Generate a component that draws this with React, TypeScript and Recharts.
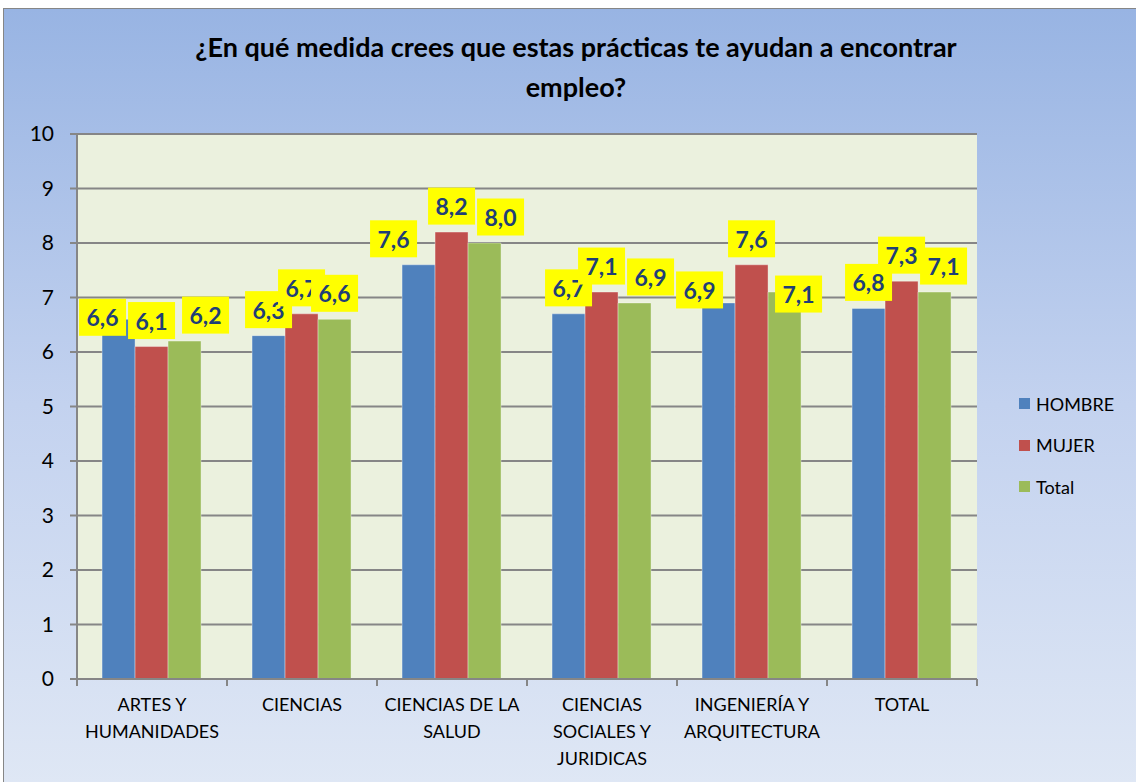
import { BarChart, Bar, XAxis, YAxis, CartesianGrid, LabelList } from "recharts";

const CATEGORIES = [
  "ARTES Y\nHUMANIDADES",
  "CIENCIAS",
  "CIENCIAS DE LA\nSALUD",
  "CIENCIAS\nSOCIALES Y\nJURIDICAS",
  "INGENIERÍA Y\nARQUITECTURA",
  "TOTAL",
];
const HOMBRE = [6.6, 6.3, 7.6, 6.7, 6.9, 6.8];
const MUJER = [6.1, 6.7, 8.2, 7.1, 7.6, 7.3];
const TOTAL = [6.2, 6.6, 8.0, 6.9, 7.1, 7.1];
const Y_TICKS = [0, 1, 2, 3, 4, 5, 6, 7, 8, 9, 10];

const SERIES = [
  { key: "hombre", name: "HOMBRE", color: "#4F81BD" },
  { key: "mujer", name: "MUJER", color: "#C0504D" },
  { key: "total", name: "Total", color: "#9BBB59" },
];

// label nudges (dx, dy) per series, per category, like the hand-placed labels in the source
const NUDGE: Record<string, [number, number][]> = {
  hombre: [[-16, 24], [0, 0], [-25, 0], [0, 0], [-19, 13], [0, 0]],
  mujer: [[0, 0], [0, 0], [0, 0], [0, 0], [0, 0], [0, 0]],
  total: [[21, 0], [0, 0], [16, 0], [16, 0], [14, 28], [9, 0]],
};

const data = CATEGORIES.map((name, i) => ({
  name,
  hombre: HOMBRE[i],
  mujer: MUJER[i],
  total: TOTAL[i],
}));

const FONT = "Lato, 'Open Sans', sans-serif";
const BAND = 150;

const makeLabel = (key: string) => (props: any) => {
  const { x, y, width, value, index } = props;
  const [dx, dy] = NUDGE[key][index] || [0, 0];
  const cx = x + width / 2 + dx;
  const cy = y - 26 + dy;
  return (
    <g>
      <rect x={cx - 23.5} y={cy - 18.5} width={47} height={37} fill="#FFFF00" />
      <text
        x={cx}
        y={cy}
        textAnchor="middle"
        dominantBaseline="central"
        fontFamily={FONT}
        fontWeight={700}
        fontSize={23}
        fill="#1F3F77"
      >
        {Number(value).toFixed(1).replace(".", ",")}
      </text>
    </g>
  );
};

const XTick = (props: any) => {
  const { x, y, payload, index } = props;
  const lines = String(payload.value).split("\n");
  return (
    <g>
      <line x1={x - BAND / 2} x2={x - BAND / 2} y1={y} y2={y + 7} stroke="#868686" strokeWidth={2} />
      {index === CATEGORIES.length - 1 && (
        <line x1={x + BAND / 2} x2={x + BAND / 2} y1={y} y2={y + 7} stroke="#868686" strokeWidth={2} />
      )}
      {lines.map((l, i) => (
        <text
          key={i}
          x={x}
          y={y + 25 + i * 27}
          textAnchor="middle"
          dominantBaseline="central"
          fontFamily={FONT}
          fontSize={18}
          fill="#000"
        >
          {l}
        </text>
      ))}
    </g>
  );
};

export default function App() {
  return (
    <div
      style={{
        position: "absolute",
        left: 0,
        top: 0,
        width: 1136,
        height: 782,
        overflow: "hidden",
        background: "#fff",
      }}
    >
      <div
        style={{
          position: "absolute",
          left: 3,
          top: 8,
          width: 1150,
          height: 790,
          border: "1px solid #868686",
          background: "linear-gradient(to bottom, #98B4E3 0%, #C3D2EF 50%, #E0E8F5 100%)",
        }}
      />
      <div
        style={{
          position: "absolute",
          left: 0,
          top: 27,
          width: 1152,
          textAlign: "center",
          fontFamily: FONT,
          fontWeight: 700,
          fontSize: 27,
          lineHeight: "40px",
          color: "#000",
        }}
      >
        ¿En qué medida crees que estas prácticas te ayudan a encontrar
        <br />
        empleo?
      </div>
      <div style={{ position: "absolute", left: 0, top: 0 }}>
        <BarChart
          width={1136}
          height={782}
          data={data}
          margin={{ top: 134, right: 159, bottom: 23, left: 17 }}
          barCategoryGap="16.7%"
          barGap={0}
        >
          <CartesianGrid
            vertical={false}
            stroke="#868686"
            strokeWidth={2}
            fill="#EBF1DE"
            fillOpacity={1}
          />
          <XAxis
            dataKey="name"
            interval={0}
            tickLine={false}
            tickSize={0}
            tickMargin={0}
            axisLine={{ stroke: "#868686", strokeWidth: 2 }}
            height={80}
            tick={<XTick />}
          />
          <YAxis
            domain={[0, 10]}
            ticks={Y_TICKS}
            interval={0}
            width={60}
            tickSize={7}
            tickMargin={16}
            tickLine={{ stroke: "#868686", strokeWidth: 2 }}
            axisLine={{ stroke: "#868686", strokeWidth: 2 }}
            tick={{ fontFamily: FONT, fontSize: 21, fill: "#000" }}
          />
          {SERIES.map((s) => (
            <Bar
              key={s.key}
              dataKey={s.key}
              name={s.name}
              fill={s.color}
              stroke="rgba(255,255,255,0.35)"
              strokeWidth={1}
              isAnimationActive={false}
            >
              <LabelList dataKey={s.key} content={makeLabel(s.key)} />
            </Bar>
          ))}
        </BarChart>
      </div>
      <div
        style={{
          position: "absolute",
          left: 1019,
          top: 383,
          fontFamily: FONT,
          fontSize: 18,
          color: "#000",
        }}
      >
        {SERIES.map((s) => (
          <div key={s.key} style={{ display: "flex", alignItems: "center", height: 41.5 }}>
            <span style={{ width: 11, height: 11, background: s.color, marginRight: 6 }} />
            <span>{s.name}</span>
          </div>
        ))}
      </div>
    </div>
  );
}
